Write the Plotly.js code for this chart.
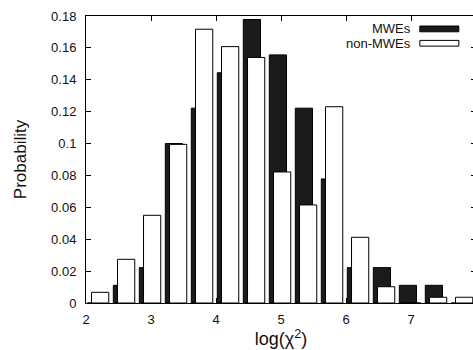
<!DOCTYPE html>
<html>
<head>
<meta charset="utf-8">
<script src="https://cdn.plot.ly/plotly-3.0.1.min.js"></script>
<style>
html, body { margin: 0; padding: 0; overflow: hidden; background: #fff; }
#chart { width: 480px; height: 350px; }
</style>
</head>
<body>
<div id="chart"></div>
<script>
// Bin centres of log(chi^2)
var binCenters = [2.2, 2.6, 3.0, 3.4, 3.8, 4.2, 4.6, 5.0, 5.4, 5.8, 6.2, 6.6, 7.0, 7.4, 7.8];
// Probabilities
var mweValues    = [0, 0.0111, 0.0222, 0.1000, 0.1222, 0.1444, 0.1778, 0.1556, 0.1222, 0.0778, 0.0222, 0.0222, 0.0111, 0.0111, 0];
var nonMweValues = [0.0067, 0.0274, 0.0550, 0.0995, 0.1717, 0.1608, 0.1540, 0.0822, 0.0615, 0.1231, 0.0412, 0.0102, 0, 0.0036, 0.0036];
var seriesNames = ["MWEs", "non-MWEs"];
var yTickVals = [0, 0.02, 0.04, 0.06, 0.08, 0.1, 0.12, 0.14, 0.16, 0.18];
var yTickText = ["0", "0.02", "0.04", "0.06", "0.08", "0.1", "0.12", "0.14", "0.16", "0.18"];
var xTickVals = [2, 3, 4, 5, 6, 7];
var xTickText = ["2", "3", "4", "5", "6", "7"];

var FONT = "Liberation Sans, Arial, sans-serif";

var traces = [
  {
    type: "bar", name: seriesNames[0], x: binCenters, y: mweValues,
    width: 0.265, offset: -0.18,
    marker: { color: "#1b1b1b", line: { color: "#000", width: 1 } },
    showlegend: false, hoverinfo: "x+y"
  },
  {
    type: "bar", name: seriesNames[1], x: binCenters, y: nonMweValues,
    width: 0.265, offset: -0.115,
    marker: { color: "#ffffff", line: { color: "#000", width: 1 } },
    showlegend: false, hoverinfo: "x+y"
  }
];

// Gnuplot-style legend: text to the left of a sample box
var legendFills = ["#1b1b1b", "#ffffff"];
var legendY = [0.955, 0.905];
var annotations = [];
var shapes = [];
for (var i = 0; i < seriesNames.length; i++) {
  annotations.push({
    xref: "paper", yref: "paper", x: 0.838, y: legendY[i],
    xanchor: "right", yanchor: "middle", showarrow: false,
    text: seriesNames[i], font: { family: FONT, size: 13, color: "#111" }
  });
  shapes.push({
    type: "rect", xref: "paper", yref: "paper",
    x0: 0.856, x1: 0.956, y0: legendY[i] - 0.01, y1: legendY[i] + 0.01,
    fillcolor: legendFills[i], line: { color: "#000", width: 1 }
  });
}

var layout = {
  width: 480, height: 350,
  margin: { l: 86, r: 4, t: 16, b: 47, pad: 0 },
  paper_bgcolor: "#fff", plot_bgcolor: "#fff",
  barmode: "overlay",
  font: { family: FONT, size: 13, color: "#111" },
  xaxis: {
    range: [2, 8], tickvals: xTickVals, ticktext: xTickText,
    ticks: "inside", ticklen: 5, tickcolor: "#000", tickwidth: 1,
    showline: true, linecolor: "#000", linewidth: 1, mirror: "ticks",
    showgrid: false, zeroline: false, layer: "below traces",
    ticklabelstandoff: 4,
    tickfont: { family: FONT, size: 13, color: "#111" },
    title: { text: "log(χ<sup>2</sup>)", font: { family: FONT, size: 18, color: "#111" }, standoff: 4 }
  },
  yaxis: {
    range: [0, 0.18], tickvals: yTickVals, ticktext: yTickText,
    ticks: "inside", ticklen: 5, tickcolor: "#000", tickwidth: 1,
    showline: true, linecolor: "#000", linewidth: 1, mirror: "ticks",
    showgrid: false, zeroline: false, layer: "below traces",
    ticklabelstandoff: 6,
    tickfont: { family: FONT, size: 13, color: "#111" },
    title: { text: "Probability", font: { family: FONT, size: 17, color: "#111" }, standoff: 20 }
  },
  annotations: annotations,
  shapes: shapes
};

Plotly.newPlot("chart", traces, layout, { displayModeBar: false, staticPlot: true });
</script>
</body>
</html>
